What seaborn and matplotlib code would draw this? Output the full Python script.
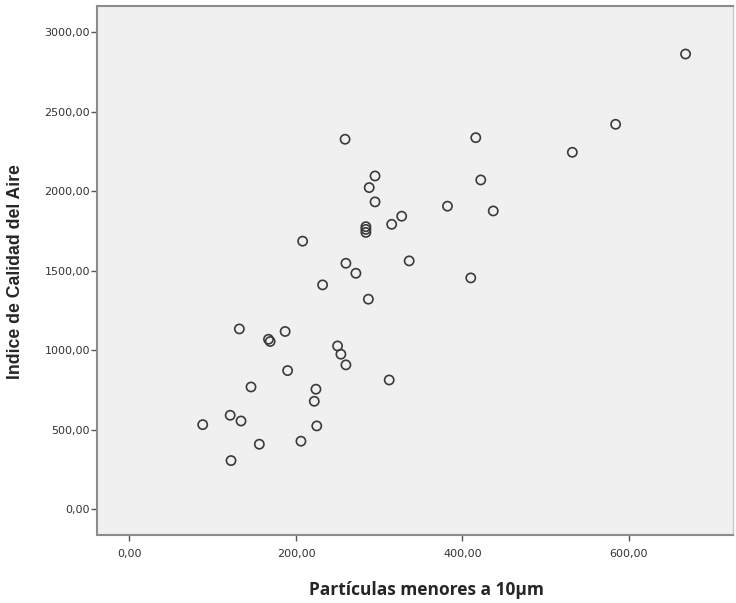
import numpy as np
import pandas as pd
import seaborn as sns
import matplotlib.pyplot as plt

# ---------------- DATOS ----------------
pm10 = [668, 584, 532, 416, 259, 422, 295, 288, 295, 382, 437, 327, 315,
        284, 284, 284, 208, 260, 272, 336, 232, 410, 287, 132, 187, 167,
        169, 190, 146, 224, 222, 121, 134, 88, 225, 156, 206, 122, 250,
        254, 260, 312]
ica = [2863, 2421, 2245, 2337, 2327, 2071, 2096, 2023, 1933, 1906, 1876,
       1843, 1792, 1777, 1760, 1741, 1686, 1547, 1484, 1562, 1411, 1455,
       1321, 1134, 1118, 1069, 1055, 872, 769, 755, 679, 591, 555, 532,
       524, 409, 428, 306, 1027, 975, 908, 813]

x_ticks = [0, 200, 400, 600]
x_labels = ["0,00", "200,00", "400,00", "600,00"]
y_ticks = [0, 500, 1000, 1500, 2000, 2500, 3000]
y_labels = ["0,00", "500,00", "1000,00", "1500,00", "2000,00", "2500,00", "3000,00"]
# ----------------------------------------

df = pd.DataFrame({"pm10": pm10, "ica": ica})

sns.set_style("white")
plt.rcParams["font.family"] = ["DejaVu Sans"]

fig = plt.figure(figsize=(7.36, 6.03), dpi=100)
ax = fig.add_axes([97 / 736, 1 - 535 / 603, 636 / 736, 529 / 603])
ax.set_facecolor("#f0f0f0")

sns.scatterplot(data=df, x="pm10", y="ica", ax=ax, s=44, marker="o",
                facecolor="none", edgecolor="#3a3a3a", linewidth=1.2)

ax.set_xlim(-39, 725)
ax.set_ylim(-162, 3165)
ax.set_xticks(x_ticks)
ax.set_xticklabels(x_labels)
ax.set_yticks(y_ticks)
ax.set_yticklabels(y_labels)
ax.tick_params(axis="both", which="major", length=4, width=1,
               color="#555555", labelsize=8, labelcolor="#333333",
               direction="out", bottom=True, left=True)
ax.tick_params(axis="x", pad=6)
ax.tick_params(axis="y", pad=1)

for side, sp in ax.spines.items():
    sp.set_visible(True)
    sp.set_color("#8c8c8c")
    sp.set_linewidth(1.5)
ax.spines["right"].set_color("#c8c8c8")
ax.spines["right"].set_linewidth(1)

ax.set_xlabel("")
ax.set_ylabel("")
fig.text(16 / 736, 1 - 272 / 603, "Indice de Calidad del Aire",
         rotation=90, ha="center", va="center", fontsize=12.7,
         fontweight="bold", family="Liberation Sans")
fig.text(426 / 736, 1 - 590 / 603, "Partículas menores a 10µm",
         ha="center", va="center", fontsize=12.5, fontweight="bold",
         family="Open Sans")

fig.savefig("out.png", dpi=100)
plt.close(fig)
